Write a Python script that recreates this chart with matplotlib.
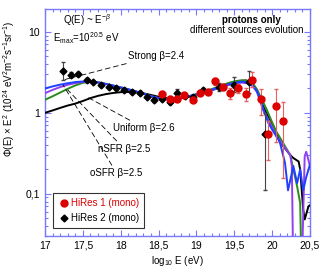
import numpy as np
import matplotlib
matplotlib.use('Agg')
import matplotlib.pyplot as plt
from matplotlib.lines import Line2D
from matplotlib.ticker import FuncFormatter, MultipleLocator, LogLocator, NullFormatter

plt.rcParams['font.family'] = 'Liberation Sans'
plt.rcParams['mathtext.fontset'] = 'custom'
plt.rcParams['mathtext.rm'] = 'Liberation Sans'
plt.rcParams['mathtext.it'] = 'Liberation Sans:italic'
plt.rcParams['mathtext.bf'] = 'Liberation Sans:bold'

#Model curves (log10 E, flux x E^2)
e_strong = [17.0, 17.1, 17.2, 17.3, 17.4, 17.5, 17.6, 17.7, 17.8, 17.9, 18.0, 18.1, 18.2, 18.3,
            18.4, 18.5, 18.6, 18.7, 18.8, 18.9, 19.0, 19.1, 19.2, 19.3, 19.4, 19.5, 19.6, 19.7,
            19.75, 19.8, 19.85, 19.9, 19.95, 20.0, 20.1, 20.17, 20.21, 20.28, 20.33, 20.37,
            20.41, 20.45, 20.5]
f_strong = [2.0, 2.12, 2.23, 2.32, 2.4, 2.44, 2.43, 2.38, 2.28, 2.17, 2.06, 1.95, 1.84, 1.72,
            1.6, 1.52, 1.48, 1.48, 1.52, 1.6, 1.69, 1.8, 1.93, 2.07, 2.22, 2.35, 2.43, 2.35,
            2.15, 1.85, 1.4, 1.0, 0.75, 0.62, 0.44, 0.24, 0.11, 0.22, 0.135, 0.2,
            0.11, 0.16, 0.23]

e_nsfr = [17.0, 17.1, 17.2, 17.3, 17.4, 17.5, 17.6, 17.7, 17.8, 17.9, 18.0, 18.1, 18.2, 18.3,
          18.4, 18.5, 18.6, 18.7, 18.8, 18.9, 19.0, 19.1, 19.2, 19.3, 19.4, 19.5, 19.6, 19.7,
          19.75, 19.8, 19.88, 20.06, 20.24, 20.26, 20.28, 20.39, 20.43, 20.45, 20.5]
f_nsfr = [1.75, 1.92, 2.08, 2.22, 2.33, 2.4, 2.41, 2.37, 2.28, 2.17, 2.06, 1.95, 1.84, 1.72,
          1.6, 1.52, 1.48, 1.48, 1.52, 1.59, 1.68, 1.78, 1.9, 2.03, 2.17, 2.3, 2.36, 2.3,
          2.1, 1.8, 1.09, 0.51, 0.30, 0.22, 0.01, 0.01, 0.29, 0.33, 0.22]

e_osfr = [17.0, 17.1, 17.2, 17.3, 17.4, 17.5, 17.6, 17.7, 17.8, 17.9, 18.0, 18.1, 18.2, 18.3,
          18.4, 18.5, 18.6, 18.7, 18.8, 18.9, 19.0, 19.1, 19.2, 19.3, 19.4, 19.5, 19.6, 19.7,
          19.75, 19.8, 19.93, 20.04, 20.24, 20.28, 20.33, 20.37, 20.39]
f_osfr = [1.45, 1.6, 1.78, 1.98, 2.18, 2.35, 2.42, 2.38, 2.28, 2.17, 2.06, 1.95, 1.84, 1.72,
          1.6, 1.52, 1.48, 1.48, 1.52, 1.6, 1.7, 1.82, 1.96, 2.12, 2.3, 2.45, 2.53, 2.45,
          2.25, 1.95, 1.09, 0.62, 0.30, 0.2, 0.123, 0.077, 0.01]

e_unif = [17.0, 17.1, 17.2, 17.3, 17.4, 17.5, 17.6, 17.7, 17.8, 17.9, 18.0, 18.1, 18.2, 18.3,
          18.4, 18.5, 18.6, 18.7, 18.8, 18.9, 19.0, 19.1, 19.2, 19.3, 19.4, 19.5, 19.6, 19.65,
          19.7, 19.75, 19.8, 19.84, 19.9, 20.02, 20.1, 20.24, 20.28, 20.35, 20.37, 20.41,
          20.43, 20.48, 20.5]
f_unif = [1.0, 1.07, 1.15, 1.23, 1.3, 1.4, 1.52, 1.62, 1.7, 1.76, 1.8, 1.81, 1.8, 1.74,
          1.66, 1.58, 1.53, 1.52, 1.54, 1.6, 1.68, 1.78, 1.9, 2.04, 2.2, 2.35, 2.48, 2.52,
          2.45, 2.25, 1.9, 1.5, 1.1, 0.68, 0.44, 0.30, 0.276, 0.25, 0.2, 0.064,
          0.048, 0.07, 0.072]

#HiRes 2 (mono) data: log E, value, lower, upper
hr2_e  = [17.24, 17.34, 17.44, 17.55, 17.64, 17.74, 17.84, 17.94, 18.05, 18.15, 18.25, 18.35,
          18.44, 18.55, 18.65, 18.75, 18.85, 18.95, 19.09, 19.3, 19.5, 19.7, 19.9]
hr2_v  = [3.33, 2.97, 3.03, 2.58, 2.41, 2.22, 2.08, 2.0, 1.91, 1.82, 1.77, 1.59,
          1.45, 1.5, 1.38, 1.78, 1.61, 1.59, 1.92, 2.08, 2.2, 2.42, 0.55]
hr2_lo = [2.55, 2.75, 2.85, 2.48, 2.33, 2.15, 2.02, 1.94, 1.85, 1.76, 1.71, 1.53,
          1.38, 1.42, 1.28, 1.62, 1.52, 1.5, 1.8, 1.85, 1.8, 1.75, 0.11]
hr2_hi = [4.2, 3.2, 3.2, 2.68, 2.5, 2.3, 2.15, 2.07, 1.98, 1.89, 1.84, 1.66,
          1.53, 1.58, 1.5, 1.95, 1.7, 1.68, 2.05, 2.33, 2.75, 3.3, 1.0]

#HiRes 1 (mono) data
hr1_e  = [18.55, 18.65, 18.74, 18.84, 18.95, 19.05, 19.15, 19.25, 19.35, 19.44, 19.55, 19.65,
          19.74, 19.85, 19.94, 20.05, 20.15]
hr1_v  = [1.73, 1.49, 1.49, 1.67, 1.46, 1.77, 1.83, 2.44, 2.08, 1.75, 2.0, 1.7,
          2.55, 1.48, 0.55, 1.22, 0.79]
hr1_lo = [1.6, 1.4, 1.4, 1.57, 1.37, 1.66, 1.7, 2.2, 1.9, 1.5, 1.75, 1.4,
          2.1, 0.94, 0.26, 0.44, 0.158]
hr1_hi = [1.88, 1.6, 1.6, 1.78, 1.56, 1.9, 1.97, 2.7, 2.28, 2.0, 2.25, 2.0,
          3.2, 1.96, 0.8, 1.98, 1.38]

fsz = 7
axcol = '#7878ff'
red = '#dd0000'

fig = plt.figure(figsize=(3.27, 2.73), dpi=100)
ax = fig.add_axes([0.1376, 0.1355, 0.8104, 0.8315])

ax.plot(e_unif, f_unif, color='black', lw=1.4, zorder=3)
ax.plot(e_osfr, f_osfr, color='#2a8a1a', lw=1.4, zorder=3)
ax.plot(e_nsfr, f_nsfr, color='#9040f0', lw=1.4, zorder=3)
ax.plot(e_strong, f_strong, color='#2040ff', lw=1.4, zorder=4)

hr1_v = np.array(hr1_v)
hr2_v = np.array(hr2_v)
ax.errorbar(hr2_e, hr2_v, yerr=[hr2_v - np.array(hr2_lo), np.array(hr2_hi) - hr2_v],
            fmt='D', color='black', ms=3.5, ecolor='#444444', elinewidth=0.8, capsize=1.5,
            zorder=5)
ax.errorbar(hr1_e, hr1_v, yerr=[hr1_v - np.array(hr1_lo), np.array(hr1_hi) - hr1_v],
            fmt='o', color=red, ms=5, ecolor='#e86060', elinewidth=0.8, capsize=1.5,
            zorder=6)

ax.set_yscale('log')
ax.set_xlim(17, 20.5)
ax.set_ylim(0.03, 19.2)

comma = FuncFormatter(lambda v, p: ('%g' % v).replace('.', ','))
ax.xaxis.set_major_locator(MultipleLocator(0.5))
ax.xaxis.set_minor_locator(MultipleLocator(0.1))
ax.xaxis.set_major_formatter(comma)
ax.yaxis.set_major_locator(LogLocator(base=10))
ax.yaxis.set_minor_locator(LogLocator(base=10, subs=np.arange(2, 10)))
ax.yaxis.set_major_formatter(comma)
ax.yaxis.set_minor_formatter(NullFormatter())
ax.tick_params(which='both', direction='in', top=True, right=True, color=axcol,
               labelsize=7.5, width=0.8)
ax.tick_params(which='major', length=4)
ax.tick_params(which='minor', length=2)
for s in ax.spines.values():
    s.set_color(axcol)
    s.set_linewidth(1.0)

ax.set_xlabel(r'log$_{10}$ E (eV)', fontsize=fsz, labelpad=2)
ax.set_ylabel(r'$\Phi$(E) $\times$ E$^2$ (10$^{24}$ eV$^2$m$^{-2}$s$^{-1}$sr$^{-1}$)', fontsize=fsz)
ax.yaxis.set_label_coords(-0.105, 0.65)

ax.text(17.24, 14.1, r'Q(E) ~ E$^{-\beta}$', fontsize=fsz, va='center')
ax.text(17.1, 8.4, r'E$_{\rm max}$=10$^{20.5}$ eV', fontsize=fsz, va='center')
ax.text(19.73, 14.1, 'protons only', fontsize=fsz, fontweight='bold', ha='center', va='center')
ax.text(19.66, 10.6, 'different sources evolution', fontsize=fsz, ha='center', va='center')

#Curve labels with leader lines
ldash = dict(arrowstyle='-', color='black', lw=0.6, linestyle=(0, (6, 4)), shrinkA=0, shrinkB=0)
ax.annotate(u'Strong \u03b2=2.4', xy=(17.24, 2.55), xytext=(18.1, 5.06), fontsize=fsz,
            va='center', arrowprops=ldash)
ax.annotate(u'Uniform \u03b2=2.6', xy=(17.55, 1.58), xytext=(17.9, 0.65), fontsize=fsz,
            va='center', arrowprops=ldash)
ax.annotate(u'nSFR \u03b2=2.5', xy=(17.3, 1.92), xytext=(17.7, 0.36), fontsize=fsz,
            va='center', arrowprops=ldash)
ax.annotate(u'oSFR \u03b2=2.5', xy=(17.24, 2.2), xytext=(17.6, 0.18), fontsize=fsz,
            va='center', arrowprops=ldash)

handles = [Line2D([], [], marker='o', color=red, ls='none', ms=5),
           Line2D([], [], marker='D', color='black', ls='none', ms=3.5)]
leg = ax.legend(handles, ['HiRes 1 (mono)', 'HiRes 2 (mono)'], loc='lower left',
                bbox_to_anchor=(0.03, 0.035), fontsize=fsz, frameon=True, fancybox=False,
                handletextpad=0.2, handlelength=1.2, borderpad=0.5, labelspacing=0.5,
                borderaxespad=0)
leg.get_frame().set_edgecolor('black')
leg.get_frame().set_linewidth(0.8)
leg.get_texts()[0].set_color(red)

fig.savefig('out.png', dpi=100)
